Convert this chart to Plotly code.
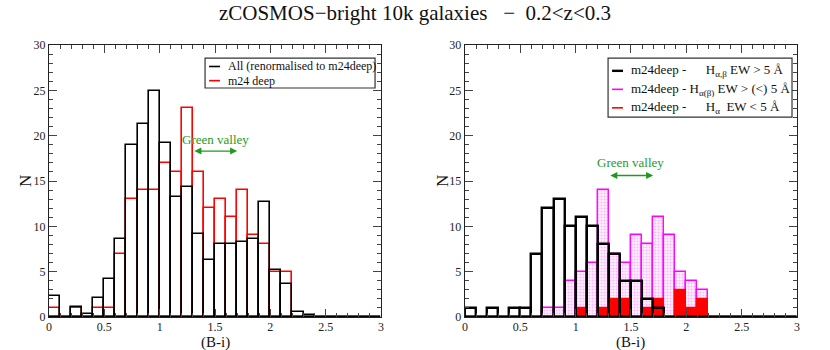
import plotly.graph_objects as go
from plotly.subplots import make_subplots

# bin lower edges, width 0.1 in (B-i)
BIN_LO = [0.0, 0.1, 0.2, 0.3, 0.4, 0.5, 0.6, 0.7, 0.8, 0.9,
          1.0, 1.1, 1.2, 1.3, 1.4, 1.5, 1.6, 1.7, 1.8, 1.9,
          2.0, 2.1, 2.2, 2.3, 2.4, 2.5, 2.6, 2.7, 2.8, 2.9]
BIN_W = 0.1

# left panel
ALL_RENORM = [2.3, 0.0, 1.1, 0.3, 2.1, 4.2, 8.6, 19.0, 21.3, 24.9,
              19.2, 13.25, 14.3, 9.1, 6.25, 8.05, 8.05, 8.3, 8.6, 12.7,
              5.2, 3.65, 0.55, 0.26, 0, 0, 0, 0, 0, 0]
M24_DEEP = [1, 0, 1, 0, 1, 1, 7, 13, 14, 14,
            17, 16, 23, 16, 12, 13, 11, 14, 9, 8,
            5, 5, 0, 0, 0, 0, 0, 0, 0, 0]

# right panel
EW_GT5 = [1, 0, 1, 0, 1, 1, 7, 12, 13, 10,
          11, 10, 8, 7, 4, 4, 2, 1, 0, 0,
          0, 0, 0, 0, 0, 0, 0, 0, 0, 0]
EW_MIXED = [0, 0, 0, 0, 0, 0, 0, 1, 1, 4,
            5, 6, 14, 7, 6, 9, 8, 11, 9, 5,
            4, 3, 0, 0, 0, 0, 0, 0, 0, 0]
EW_LT5 = [0, 0, 0, 0, 0, 0, 0, 0, 0, 0,
          1, 0, 1, 2, 2, 0, 1, 2, 0, 3,
          1, 2, 0, 0, 0, 0, 0, 0, 0, 0]

SERIF = "Liberation Serif, Times New Roman, serif"
GREEN = "#1f9a1f"
CLEAR = "rgba(0,0,0,0)"
nb = "\u00a0"


def outline_bars(vals, color, width, row, col, fill=CLEAR, pattern=None):
    marker = dict(color=fill, line=dict(color=color, width=width))
    if pattern:
        marker["pattern"] = pattern
    fig.add_trace(
        go.Bar(x=BIN_LO, y=vals, width=BIN_W, offset=0, marker=marker,
               showlegend=False, hoverinfo="skip"),
        row=row, col=col,
    )


fig = make_subplots(rows=1, cols=2, horizontal_spacing=0.1122)

outline_bars(M24_DEEP, "#ff0000", 1.6, 1, 1)
outline_bars(ALL_RENORM, "#000000", 1.6, 1, 1)

outline_bars(EW_MIXED, "#ff00ff", 1.4, 1, 2, fill="#ffffff",
             pattern=dict(shape=".", fgcolor="#ff70ff", bgcolor="#fff3ff",
                          size=3, solidity=0.35))
outline_bars(EW_LT5, "#ff0000", 1.2, 1, 2, fill="#ff0000")
outline_bars(EW_GT5, "#000000", 2.4, 1, 2)

for c in (1, 2):
    fig.update_xaxes(
        range=[0, 3], dtick=0.5, ticks="inside", ticklen=8, tickwidth=1.2,
        mirror="ticks", showline=True, linecolor="#222", linewidth=1.4,
        showgrid=False, zeroline=False, automargin=False,
        ticklabelstandoff=-2,
        minor=dict(dtick=0.1, ticks="inside", ticklen=4, tickcolor="#444"),
        tickfont=dict(family=SERIF, size=12, color="#222"),
        row=1, col=c,
    )
    fig.update_yaxes(
        range=[0, 30], dtick=5, ticks="inside", ticklen=8, tickwidth=1.2,
        mirror="ticks", showline=True, linecolor="#222", linewidth=1.4,
        showgrid=False, zeroline=False, automargin=False,
        minor=dict(dtick=1, ticks="inside", ticklen=4, tickcolor="#444"),
        tickfont=dict(family=SERIF, size=12, color="#222"),
        row=1, col=c,
    )

# axis titles placed as annotations for exact positions
for xa, nx in (("x", -0.072), ("x2", -0.069)):
    fig.add_annotation(xref=f"{xa} domain", yref="y domain", x=0.5, y=-0.093,
                       text="(B-i)", showarrow=False,
                       xanchor="center", yanchor="middle",
                       font=dict(family=SERIF, size=15, color="#111"))
    fig.add_annotation(xref=f"{xa} domain", yref="y domain", x=nx, y=0.5,
                       text="N", showarrow=False, textangle=-90,
                       xanchor="center", yanchor="middle",
                       font=dict(family=SERIF, size=17, color="#111"))

# green valley markers
for xa, ya, ytxt, yarr in (("x", "y", 19.6, 18.3), ("x2", "y2", 17.0, 15.6)):
    fig.add_annotation(x=1.5, y=ytxt, xref=xa, yref=ya, text="Green valley",
                       showarrow=False, font=dict(family=SERIF, size=13, color=GREEN))
    fig.add_annotation(x=1.7, y=yarr, ax=1.3, ay=yarr, xref=xa, yref=ya,
                       axref=xa, ayref=ya, text="", showarrow=True,
                       arrowhead=2, arrowside="end+start", arrowsize=1,
                       arrowwidth=1.4, arrowcolor=GREEN)

LEG_X = {"x": 0.470, "x2": 0.431}


# legends drawn by hand (short line keys, boxed)
def legend_box(xa, x0, x1, y0, y1):
    fig.add_shape(type="rect", xref=f"{xa} domain", yref="y domain",
                  x0=x0, x1=x1, y0=y0, y1=y1,
                  line=dict(color="#333", width=1.2), fillcolor="white")


def legend_row(xa, y, color, text, size, width=1.6):
    fig.add_shape(type="line", xref=f"{xa} domain", yref="y domain",
                  x0=0.012 + LEG_X[xa], x1=0.045 + LEG_X[xa], y0=y, y1=y,
                  line=dict(color=color, width=width))
    fig.add_annotation(xref=f"{xa} domain", yref="y domain", x=0.064 + LEG_X[xa],
                       y=y, text=text, showarrow=False, xanchor="left",
                       yanchor="middle",
                       font=dict(family=SERIF, size=size, color="#111"))


legend_box("x", 0.470, 0.982, 0.842, 0.952)
legend_row("x", 0.921, "#000000", "All (renormalised to m24deep)", 12)
legend_row("x", 0.869, "#ff0000", "m24 deep", 12)

legend_box("x2", 0.431, 0.985, 0.735, 0.952)
legend_row("x2", 0.905, "#000000",
           f"m24deep -{nb * 6}H<sub>α,β</sub> EW &gt; 5 Å", 13, width=2.4)
legend_row("x2", 0.837, "#ff00ff",
           "m24deep - H<sub>α(β)</sub> EW &gt; (&lt;) 5 Å", 13)
legend_row("x2", 0.769, "#ff0000",
           f"m24deep -{nb * 6}H<sub>α</sub>{nb * 2}EW &lt; 5 Å", 13)

fig.update_layout(
    width=830, height=350,
    barmode="overlay", bargap=0,
    paper_bgcolor="white", plot_bgcolor="white",
    margin=dict(l=49, r=33, t=45, b=33),
    title=dict(text="zCOSMOS−bright 10k galaxies" + nb * 3 + "−" + nb * 2 + "0.2&lt;z&lt;0.3",
               x=0.5, xanchor="center", y=0.963, yanchor="middle",
               yref="container",
               font=dict(family=SERIF, size=21, color="#111")),
    font=dict(family=SERIF),
    showlegend=False,
)

# page body margin would shift the 830x350 figure out of the window
fig.write_html("out.html", config={"displayModeBar": False},
               post_script="document.body.style.margin='0';")
